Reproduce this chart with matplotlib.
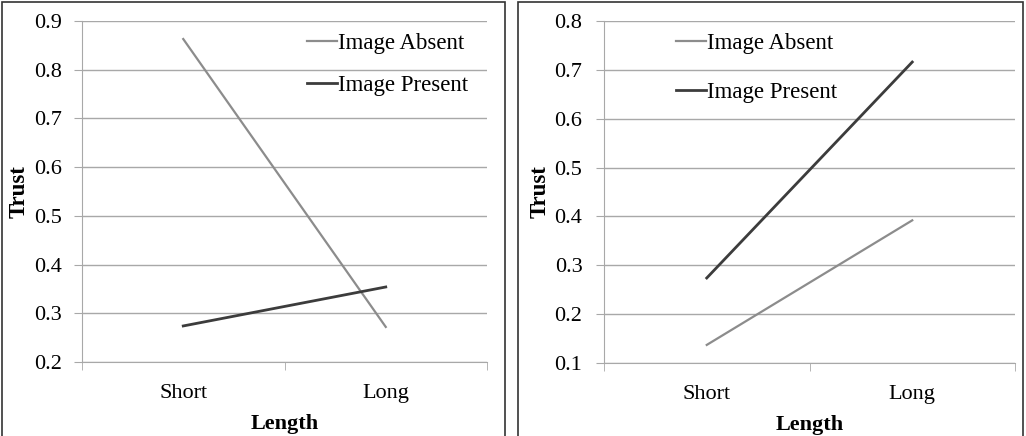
import numpy as np
import matplotlib.pyplot as plt
from matplotlib.patches import Rectangle
from matplotlib.ticker import FixedLocator

plt.rcParams['font.family'] = ['Liberation Serif', 'DejaVu Serif']

categories = ['Short', 'Long']
series_names = ['Image Absent', 'Image Present']

# left panel
left_absent = [0.863, 0.272]
left_present = [0.274, 0.354]
left_yticks = [0.2, 0.3, 0.4, 0.5, 0.6, 0.7, 0.8, 0.9]

# right panel
right_absent = [0.137, 0.392]
right_present = [0.274, 0.716]
right_yticks = [0.1, 0.2, 0.3, 0.4, 0.5, 0.6, 0.7, 0.8]

absent_color = '#8c8c8c'
present_color = '#3c3c3c'
grid_color = '#a8a8a8'

fig = plt.figure(figsize=(10.26, 4.36), dpi=100)

# panel frames
fig.patches.append(Rectangle((2/1026, -0.05), 503/1026, 1.05 - 2/436, transform=fig.transFigure,
                             fill=False, edgecolor='#333333', linewidth=1.2))
fig.patches.append(Rectangle((518/1026, -0.05), 505/1026, 1.05 - 2/436, transform=fig.transFigure,
                             fill=False, edgecolor='#333333', linewidth=1.2))


def draw_panel(rect, absent, present, yticks, legend_anchor, spacing, ypad):
    ax = fig.add_axes(rect)
    x = np.arange(len(categories))
    ax.plot(x, absent, color=absent_color, lw=1.6, label=series_names[0])
    ax.plot(x, present, color=present_color, lw=2.0, label=series_names[1])
    ax.set_xlim(-0.5, len(categories) - 0.5)
    ax.set_ylim(yticks[0], yticks[-1])
    ax.set_yticks(yticks)
    ax.set_yticklabels([f'{t:.1f}' for t in yticks])
    ax.yaxis.grid(True, color=grid_color, lw=1)
    ax.set_axisbelow(True)
    ax.set_xticks(x)
    ax.set_xticklabels(categories)
    ax.xaxis.set_minor_locator(FixedLocator([-0.5, 0.5, 1.5]))
    ax.tick_params(axis='x', which='major', length=0, pad=15.5, labelsize=16)
    ax.tick_params(axis='x', which='minor', length=6, color=grid_color, direction='out')
    ax.tick_params(axis='y', length=6, color=grid_color, pad=ypad, labelsize=16)
    for s in ['top', 'right']:
        ax.spines[s].set_visible(False)
    for s in ['left', 'bottom']:
        ax.spines[s].set_color(grid_color)
    ax.set_ylabel('Trust', fontsize=16.5, fontweight='bold', labelpad=3)
    ax.set_xlabel('Length', fontsize=16, fontweight='bold', labelpad=8)
    ax.legend(loc='upper left', bbox_to_anchor=legend_anchor, frameon=False, fontsize=16.5,
              handlelength=1.3, handletextpad=0.05, labelspacing=spacing, borderpad=0,
              borderaxespad=0)
    return ax


draw_panel([82/1026, 1 - 362/436, 405/1026, 341/436], left_absent, left_present, left_yticks,
           (225/405, 0.965), 0.9, 8.5)
draw_panel([604/1026, 1 - 363/436, 411/1026, 342/436], right_absent, right_present, right_yticks,
           (72/411, 0.965), 1.2, 9.5)

fig.savefig('out.png', dpi=100)
